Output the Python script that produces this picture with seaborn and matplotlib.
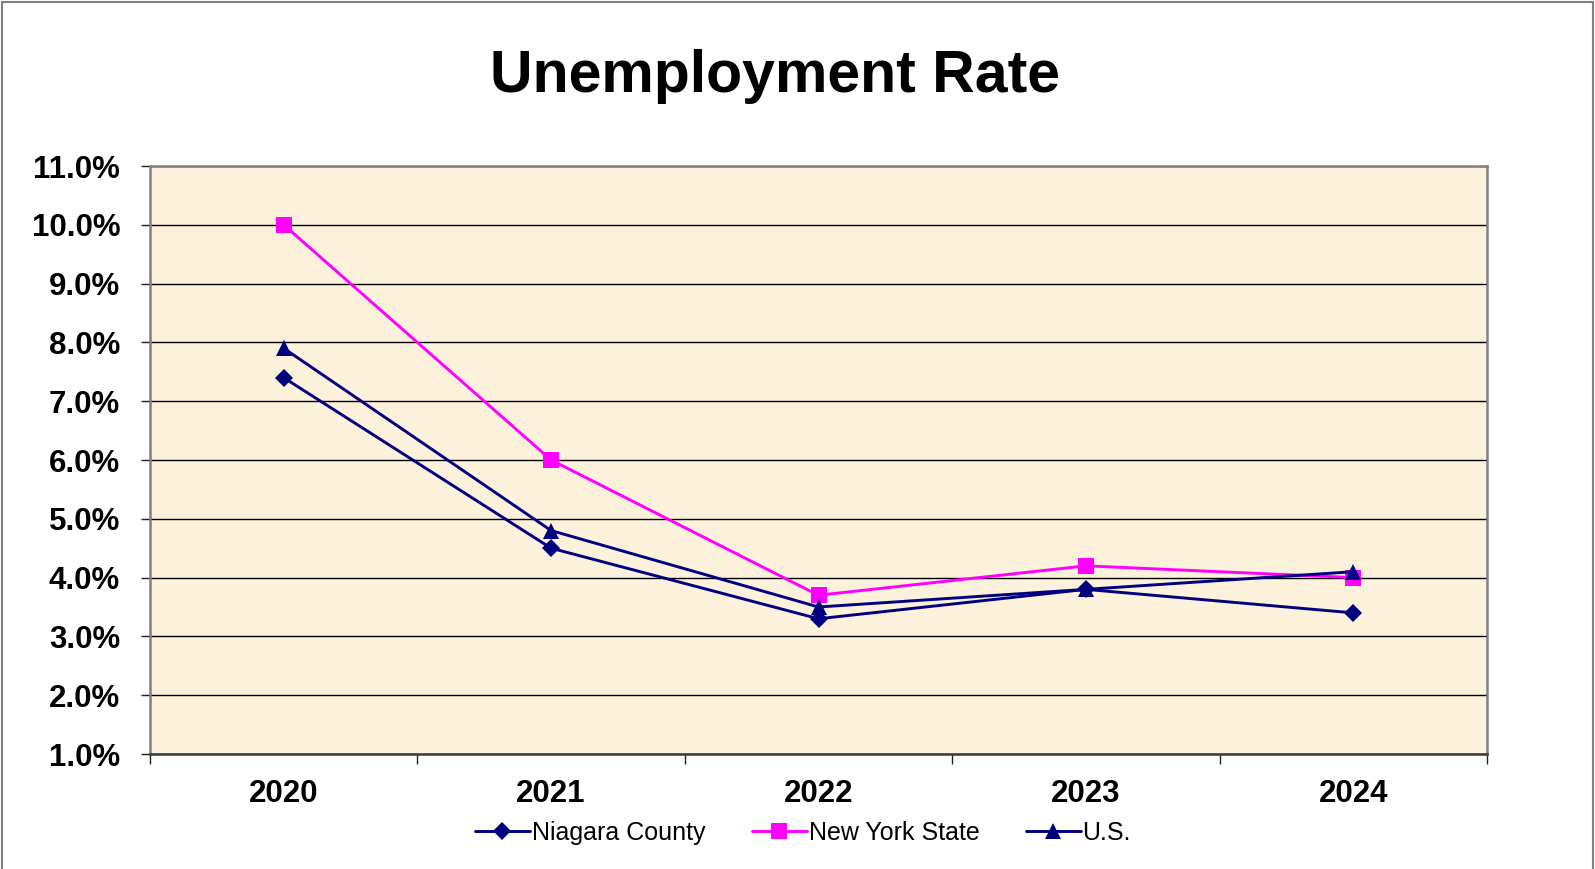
import pandas as pd
import matplotlib
matplotlib.use("Agg")
import matplotlib.pyplot as plt
import seaborn as sns
from matplotlib.lines import Line2D
from matplotlib.patches import Rectangle
from matplotlib.ticker import FixedLocator, FuncFormatter

# Annual unemployment rate (%)
years = ["2020", "2021", "2022", "2023", "2024"]
niagara_county = [7.4, 4.5, 3.3, 3.8, 3.4]
new_york_state = [10.0, 6.0, 3.7, 4.2, 4.0]
united_states = [7.9, 4.8, 3.5, 3.8, 4.1]
series_names = ["Niagara County", "New York State", "U.S."]
y_ticks = [1, 2, 3, 4, 5, 6, 7, 8, 9, 10, 11]

colors = {"Niagara County": "#000080", "New York State": "#FF00FF", "U.S.": "#000080"}
markers = {"Niagara County": "D", "New York State": "s", "U.S.": "^"}
marker_sizes = {"Niagara County": 9.5, "New York State": 11, "U.S.": 12}
line_width = 2.1

sns.set_theme(style="white")
plt.rcParams["font.family"] = ["Liberation Sans", "DejaVu Sans"]
plt.rcParams["text.color"] = "black"

rows = []
for name, values in zip(series_names, [niagara_county, new_york_state, united_states]):
    for i, v in enumerate(values):
        rows.append({"pos": i, "rate": v, "area": name})
df = pd.DataFrame(rows)

W, H = 1595, 869
fig = plt.figure(figsize=(W / 100, H / 100), dpi=100)
fig.patch.set_facecolor("white")
ax = fig.add_axes([150 / W, 1 - 754 / H, (1487 - 150) / W, (754 - 166) / H])
ax.set_facecolor("#FCF1DB")

for name in series_names:
    sub = df[df["area"] == name]
    sns.lineplot(data=sub, x="pos", y="rate", color=colors[name], marker=markers[name],
                 markersize=marker_sizes[name], markeredgewidth=0, linewidth=line_width,
                 sort=False, ax=ax, legend=False)

ax.set_xlim(-0.5, 4.5)
ax.set_ylim(1, 11)
ax.set_xlabel("")
ax.set_ylabel("")

# category boundaries carry the tick marks, category centers carry the labels
ax.xaxis.set_major_locator(FixedLocator([-0.5, 0.5, 1.5, 2.5, 3.5, 4.5]))
ax.xaxis.set_major_formatter(FuncFormatter(lambda v, p: ""))
ax.xaxis.set_minor_locator(FixedLocator(range(len(years))))
ax.xaxis.set_minor_formatter(FuncFormatter(lambda v, p: years[int(round(v))]))
ax.tick_params(axis="x", which="major", direction="out", length=7.5, width=1.0,
               color="#202020", bottom=True)
ax.tick_params(axis="x", which="minor", length=0, pad=18, labelsize=22.5,
               labelcolor="black", bottom=True)
for lbl in ax.get_xticklabels(minor=True):
    lbl.set_fontweight("bold")

ax.set_yticks(y_ticks)
ax.yaxis.set_major_formatter(FuncFormatter(lambda v, p: f"{v:.1f}%"))
ax.tick_params(axis="y", direction="out", length=6.5, width=1.0, color="#202020",
               pad=15, labelsize=22.5, labelcolor="black", left=True)
for lbl in ax.get_yticklabels():
    lbl.set_fontweight("bold")

ax.set_axisbelow(True)
ax.yaxis.grid(True, color="black", linewidth=1.0)
ax.xaxis.grid(False)

for side in ["left", "top", "right"]:
    ax.spines[side].set_color("#808080")
    ax.spines[side].set_linewidth(1.8)
ax.spines["bottom"].set_color("#3a3a3a")
ax.spines["bottom"].set_linewidth(1.8)

fig.text(775 / W, 1 - 92.5 / H, "Unemployment Rate", ha="center", va="baseline",
         fontsize=42.5, fontweight="bold", color="black")

handles = [Line2D([0], [0], color=colors[n], marker=markers[n], markersize=marker_sizes[n],
                  markeredgewidth=0, linewidth=line_width) for n in series_names]
fig.legend(handles, series_names, loc="center", bbox_to_anchor=(803 / W, 1 - 833 / H),
           ncol=3, frameon=False, fontsize=18, handlelength=2.2, handletextpad=0.08,
           columnspacing=1.85, labelcolor="black")

fig.patches.append(Rectangle((2 / W, -0.05), (1593 - 2) / W, 1.05 - 1.5 / H,
                             transform=fig.transFigure, fill=False,
                             edgecolor="#808080", linewidth=1.5))

fig.savefig("out.png", dpi=100)
